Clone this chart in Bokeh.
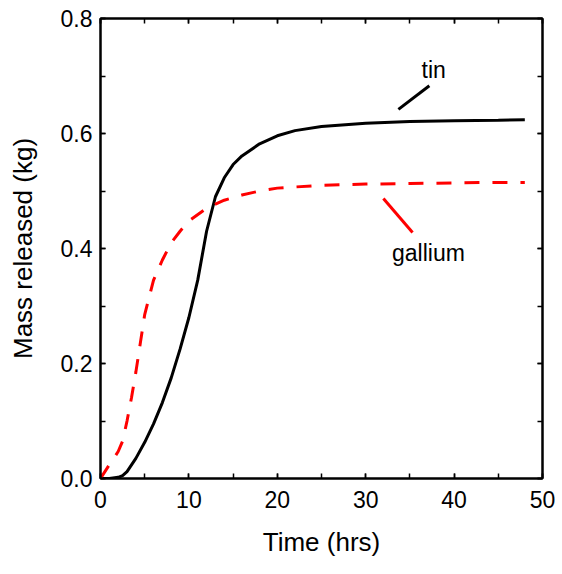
from bokeh.plotting import figure
from bokeh.models import (LinearAxis, SingleIntervalTicker, NumeralTickFormatter, Range1d,
                          CustomJSTickFormatter)
from bokeh.core.properties import value
from bokeh.embed import file_html
from bokeh.resources import INLINE

# --- data ---
tin_t = [0, 1, 2, 2.5, 3, 4, 5, 6, 7, 8, 9, 10, 11, 12, 13, 14, 15, 16, 18, 20, 22, 25, 30, 35, 40, 45, 48]
tin_m = [0, 0, 0.002, 0.005, 0.012, 0.035, 0.063, 0.095, 0.132, 0.175, 0.225, 0.28, 0.345, 0.43, 0.49,
         0.523, 0.546, 0.561, 0.582, 0.596, 0.605, 0.612, 0.618, 0.621, 0.622, 0.623, 0.624]

ga_t = [0, 0.5, 1, 1.5, 2, 2.5, 3, 3.5, 4, 4.5, 5, 6, 7, 8, 9, 10, 12, 14, 16, 18, 20, 25, 30, 35, 40, 45, 48]
ga_m = [0, 0.012, 0.024, 0.035, 0.047, 0.065, 0.1, 0.14, 0.185, 0.235, 0.285, 0.345, 0.38, 0.41, 0.43,
        0.448, 0.47, 0.484, 0.493, 0.5, 0.505, 0.51, 0.512, 0.513, 0.514, 0.515, 0.515]

# annotation label anchors and leader lines (data coords)
tin_label = (37.7, 0.711)
tin_leader_x = [33.7, 37.2]
tin_leader_y = [0.642, 0.683]
ga_label = (37.1, 0.393)
ga_leader_x = [32.0, 35.3]
ga_leader_y = [0.487, 0.428]

FONT = "Liberation Sans"

p = figure(frame_width=442, frame_height=460, output_backend="svg", toolbar_location=None,
           x_range=Range1d(0, 50), y_range=Range1d(0, 0.8),
           min_border_left=100, min_border_top=18, min_border_bottom=88, min_border_right=14,
           x_axis_label="Time (hrs)", y_axis_label="Mass released (kg)")
p.grid.visible = False
p.background_fill_color = "white"
p.border_fill_color = "white"
p.outline_line_color = "black"
p.outline_line_width = 2

def style(ax, labels=True):
    ax.axis_line_color = "black"
    ax.axis_line_width = 2
    ax.major_tick_in = 5
    ax.major_tick_out = 0
    ax.minor_tick_in = 5
    ax.minor_tick_out = 0
    ax.major_tick_line_width = 1.5
    ax.minor_tick_line_width = 1.5
    ax.major_tick_line_color = "black"
    ax.minor_tick_line_color = "black"
    ax.major_label_text_font = FONT
    ax.major_label_text_color = "black"
    ax.axis_label_text_font = FONT
    ax.axis_label_text_font_style = "normal"
    ax.axis_label_text_color = "black"
    ax.axis_label_text_font_size = "26px"
    ax.major_label_text_font_size = "23px"
    if not labels:
        ax.formatter = CustomJSTickFormatter(code="return ''")
        ax.major_label_standoff = 0
        ax.axis_label = None

p.xaxis.ticker = SingleIntervalTicker(interval=10, num_minor_ticks=2)
p.yaxis.ticker = SingleIntervalTicker(interval=0.2, num_minor_ticks=2)
p.yaxis.formatter = NumeralTickFormatter(format="0.0")
style(p.xaxis[0])
style(p.yaxis[0])
p.xaxis.major_label_standoff = 12
p.yaxis.major_label_standoff = 8
p.xaxis.axis_label_standoff = 16
p.yaxis.axis_label_standoff = 20

top = LinearAxis(ticker=SingleIntervalTicker(interval=10, num_minor_ticks=2))
right = LinearAxis(ticker=SingleIntervalTicker(interval=0.2, num_minor_ticks=2))
style(top, labels=False)
style(right, labels=False)
p.add_layout(top, "above")
p.add_layout(right, "right")

p.line(tin_t, tin_m, line_color="black", line_width=3)
p.line(ga_t, ga_m, line_color="red", line_width=3, line_dash="15 13")

p.line(tin_leader_x, tin_leader_y, line_color="black", line_width=3)
p.line(ga_leader_x, ga_leader_y, line_color="red", line_width=3)

p.text(x=[tin_label[0]], y=[tin_label[1]], text=["tin"], text_font=value(FONT),
       text_font_size="23px", text_align="center", text_baseline="middle", text_color="black")
p.text(x=[ga_label[0]], y=[ga_label[1]], text=["gallium"], text_font=value(FONT),
       text_font_size="23px", text_align="center", text_baseline="middle", text_color="black")

open("out.html", "w").write(file_html(p, INLINE))
